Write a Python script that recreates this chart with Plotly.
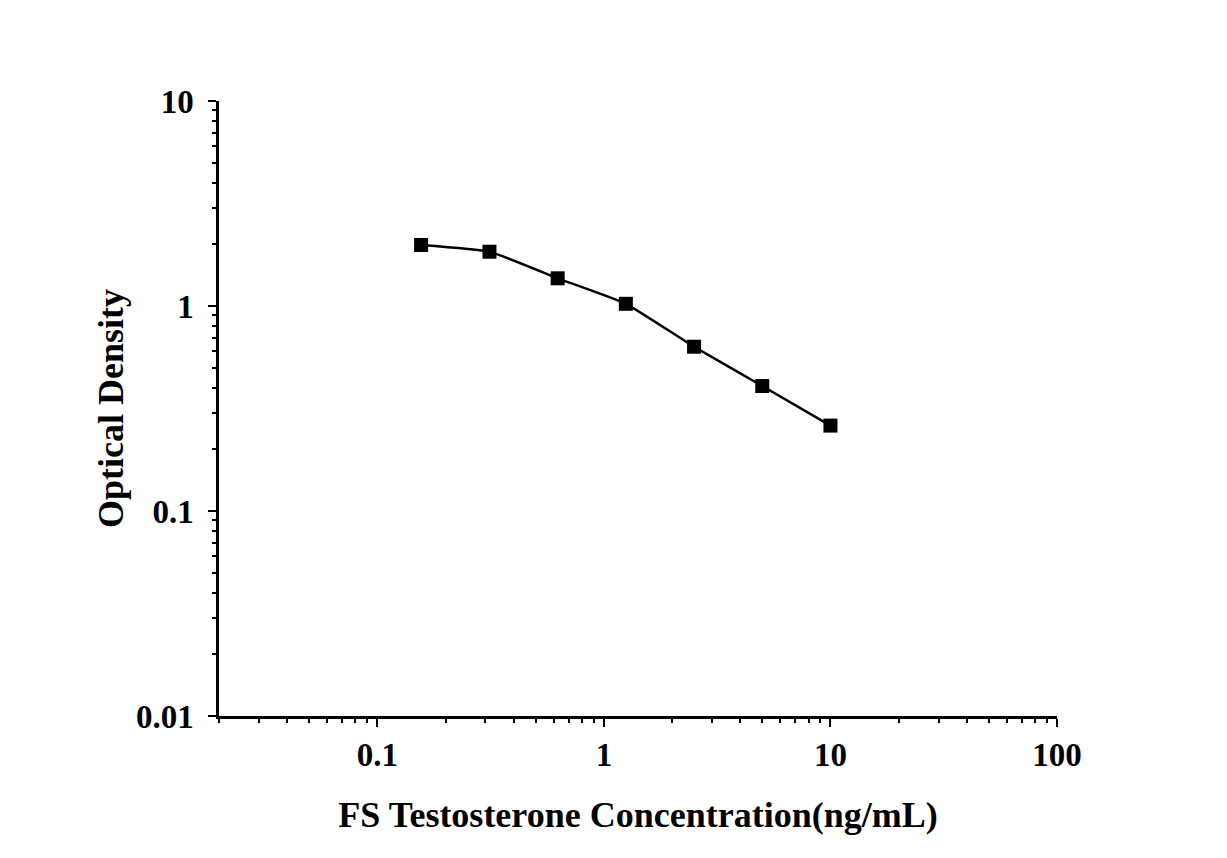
import plotly.graph_objects as go

concentration = [0.156, 0.3125, 0.625, 1.25, 2.5, 5, 10]
optical_density = [1.985, 1.84, 1.365, 1.025, 0.633, 0.407, 0.261]

x_tickvals = [0.1, 1, 10, 100]
x_ticktext = ["0.1", "1", "10", "100"]
y_tickvals = [0.01, 0.1, 1, 10]
y_ticktext = ["0.01", "0.1", "1", "10"]

font_family = "Liberation Serif"

fig = go.Figure()
fig.add_trace(go.Scatter(
    x=concentration, y=optical_density,
    mode="lines+markers",
    line=dict(color="black", width=2.5, shape="spline", smoothing=0.4),
    marker=dict(symbol="square", size=14, color="black"),
    showlegend=False,
))

axis_common = dict(
    type="log",
    showgrid=False,
    zeroline=False,
    showline=True,
    linecolor="black",
    linewidth=2.5,
    ticks="outside",
    ticklen=8,
    tickwidth=2,
    tickcolor="black",
    tickfont=dict(family=font_family, size=33, color="black", weight="bold"),
    minor=dict(ticks="outside", ticklen=4, tickwidth=2, tickcolor="black",
               showgrid=False, dtick="D1"),
)

fig.update_xaxes(
    **axis_common,
    range=[-1.699, 2],
    tickvals=x_tickvals, ticktext=x_ticktext,
    title=dict(text="<b>FS Testosterone Concentration(ng/mL)</b>",
               font=dict(family=font_family, size=36, color="black"), standoff=30),
)
fig.update_yaxes(
    **axis_common,
    range=[-2, 1],
    tickvals=y_tickvals, ticktext=y_ticktext,
    ticklabelstandoff=8,
    title=dict(text="<b>Optical Density</b>",
               font=dict(family=font_family, size=36, color="black"), standoff=2),
)

fig.update_layout(
    width=1227, height=858,
    margin=dict(l=211, r=178, t=93, b=150),
    paper_bgcolor="white", plot_bgcolor="white",
)

fig.write_html("out.html")
